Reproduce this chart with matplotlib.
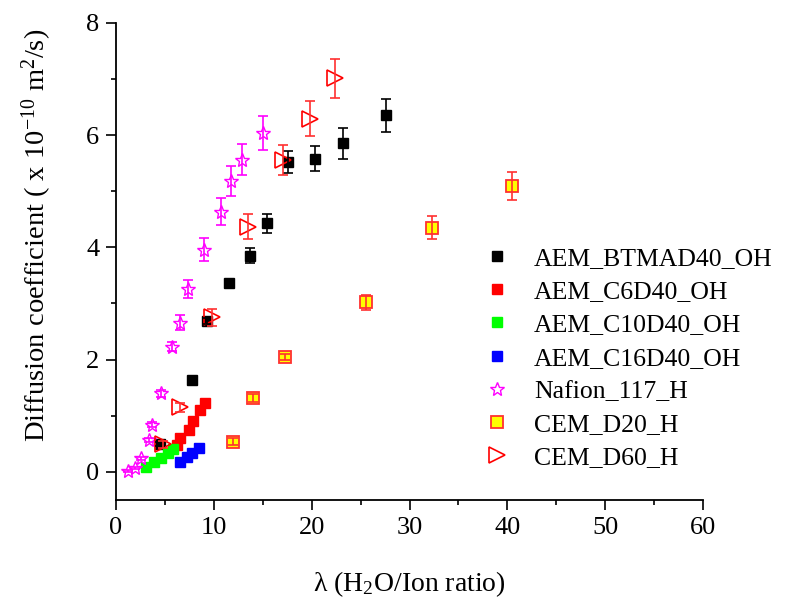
from matplotlib import pyplot as plt
from matplotlib.ticker import MultipleLocator

plt.rcParams['font.family'] = ['Liberation Serif', 'DejaVu Serif']
plt.rcParams['mathtext.fontset'] = 'custom'
plt.rcParams['mathtext.rm'] = 'Liberation Serif'
plt.rcParams['mathtext.it'] = 'Liberation Serif:italic'

# AEM_BTMAD40_OH
btmad_x = [4.5, 7.8, 9.3, 11.5, 13.7, 15.4, 17.6, 20.3, 23.2, 27.6]
btmad_y = [0.50, 1.64, 2.69, 3.37, 3.85, 4.43, 5.52, 5.58, 5.85, 6.35]
btmad_e = [0.03, 0.04, 0.05, 0.05, 0.13, 0.17, 0.19, 0.22, 0.27, 0.29]

# AEM_C6D40_OH
c6_x = [6.2, 6.5, 7.5, 7.9, 8.6, 9.1]
c6_y = [0.48, 0.60, 0.74, 0.90, 1.10, 1.23]

# AEM_C10D40_OH
c10_x = [3.1, 3.9, 4.6, 5.3, 5.8]
c10_y = [0.09, 0.17, 0.25, 0.33, 0.40]

# AEM_C16D40_OH
c16_x = [6.5, 7.3, 7.8, 8.5]
c16_y = [0.18, 0.27, 0.34, 0.43]

# Nafion_117_H
naf_x = [1.26, 1.94, 2.56, 3.37, 3.72, 4.64, 5.76, 6.54, 7.4, 9.03, 10.74, 11.76, 12.85, 15.06]
naf_y = [0.01, 0.07, 0.24, 0.57, 0.84, 1.40, 2.23, 2.66, 3.26, 3.96, 4.63, 5.18, 5.56, 6.03]
naf_e = [0.02, 0.02, 0.03, 0.04, 0.04, 0.06, 0.08, 0.14, 0.16, 0.20, 0.24, 0.26, 0.28, 0.30]

# CEM_D20_H
d20_x = [12.0, 14.0, 17.3, 25.6, 32.3, 40.5]
d20_y = [0.54, 1.31, 2.05, 3.02, 4.35, 5.10]
d20_e = [0.06, 0.07, 0.05, 0.13, 0.21, 0.25]

# CEM_D60_H
d60_x = [4.84, 6.54, 9.78, 13.5, 17.1, 19.8, 22.4]
d60_y = [0.49, 1.15, 2.75, 4.37, 5.56, 6.29, 7.01]
d60_e = [0.06, 0.08, 0.15, 0.22, 0.27, 0.31, 0.35]

fig = plt.figure(figsize=(7.93, 6.07), dpi=100)
ax = fig.add_axes([0.1463, 0.1763, 0.7402, 0.7863])

cap = 3.6
ax.errorbar(btmad_x, btmad_y, yerr=btmad_e, fmt='none', ecolor='black', elinewidth=1.2, capsize=cap, capthick=1.2, zorder=3)
ax.errorbar(naf_x, naf_y, yerr=naf_e, fmt='none', ecolor='#ff00ff', elinewidth=1.2, capsize=cap, capthick=1.2, zorder=3)
ax.errorbar(d60_x, d60_y, yerr=d60_e, fmt='none', ecolor='#ff3030', elinewidth=1.2, capsize=cap, capthick=1.2, zorder=3)

ax.plot(btmad_x, btmad_y, 's', color='black', ms=7, label='AEM_BTMAD40_OH', zorder=2)
ax.plot(c6_x, c6_y, 's', color='#ff0000', ms=7.5, label='AEM_C6D40_OH', zorder=2)
ax.plot(c10_x, c10_y, 's', color='#00ff00', ms=7, label='AEM_C10D40_OH', zorder=2)
ax.plot(c16_x, c16_y, 's', color='#0000ff', ms=7.5, label='AEM_C16D40_OH', zorder=2)
ax.plot(naf_x, naf_y, '*', mfc='white', mec='#ff00ff', mew=1, ms=10, label='Nafion_117_H', zorder=2)
ax.plot(d20_x, d20_y, 's', mfc='#ffff00', mec='#ff3030', mew=1.3, ms=8.5, label='CEM_D20_H', zorder=2)
ax.plot(d60_x, d60_y, '>', mfc='none', mec='#ff0000', mew=1.2, ms=12, label='CEM_D60_H', zorder=2)

# caps drawn over the yellow squares, like the original
ax.errorbar(d20_x, d20_y, yerr=d20_e, fmt='none', ecolor='#ff3030', elinewidth=1.2, capsize=cap, capthick=1.2, zorder=4)

ax.set_xlim(0, 60)
ax.set_ylim(-0.5, 8)
ax.xaxis.set_major_locator(MultipleLocator(10))
ax.xaxis.set_minor_locator(MultipleLocator(5))
ax.yaxis.set_major_locator(MultipleLocator(2))
ax.yaxis.set_minor_locator(MultipleLocator(1))
ax.set_yticks([0, 2, 4, 6, 8])

for s in ['top', 'right']:
    ax.spines[s].set_visible(False)
for s in ['left', 'bottom']:
    ax.spines[s].set_linewidth(1.3)

ax.tick_params(which='major', direction='out', length=7, width=1.2, labelsize=19, pad=5)
ax.tick_params(which='minor', direction='out', length=3.5, width=1.2)

ax.set_xlabel('λ (H$_2$O/Ion ratio)', fontsize=20, labelpad=22)
ax.set_ylabel('Diffusion coefficient ( x 10$^{\\mathrm{-10}}$ m$^2$/s)', fontsize=20.5)
ax.yaxis.set_label_coords(-0.105, 0.555)

ax.legend(loc='center left', bbox_to_anchor=(0.610, 0.41), bbox_transform=fig.transFigure,
          frameon=False, fontsize=18.5, handlelength=1, handletextpad=0.95,
          borderpad=0, borderaxespad=0, labelspacing=0.4, numpoints=1)

plt.savefig('out.png', dpi=100)
plt.close()
